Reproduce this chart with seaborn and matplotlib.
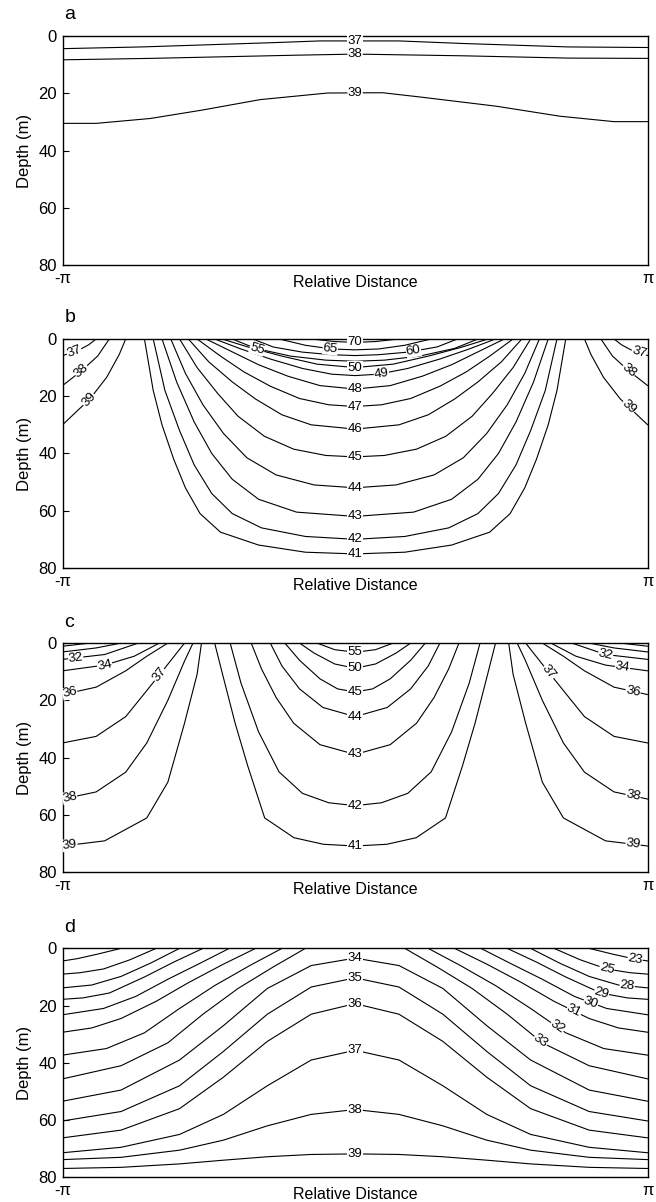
import numpy as np
import pandas as pd
import matplotlib.pyplot as plt
import seaborn as sns

sns.set_style('ticks', {'axes.edgecolor': 'black', 'text.color': 'black',
                        'axes.labelcolor': 'black', 'xtick.color': 'black',
                        'ytick.color': 'black'})
plt.rcParams['font.family'] = ['Liberation Sans', 'DejaVu Sans']

# Isolines read off the sections. x is the relative distance in units of pi,
# depth in metres. lab = x position of the inline label (None = no label).

# panel a
a_levels = [37, 38, 39]
a_x = [[-1, -0.73, -0.28, -0.12, 0.15, 0.37, 0.73, 1],
       [-1, -0.7, -0.21, 0.0, 0.37, 0.73, 1],
       [-1, -0.885, -0.7, -0.525, -0.324, -0.094, 0.094, 0.223, 0.482, 0.7, 0.885, 1]]
a_depth = [[4.4, 3.8, 2.3, 1.7, 1.7, 2.6, 3.8, 4.0],
           [8.3, 7.8, 6.7, 6.3, 6.9, 7.7, 7.8],
           [30.5, 30.5, 28.8, 25.9, 22.2, 19.9, 19.8, 21.3, 24.5, 28, 29.9, 29.9]]
a_lab = [0, 0, 0]

# panel b
b_levels = [37, 38, 39, 37, 38, 39,
            41, 42, 43, 44, 45, 46, 47, 48, 49, 50, 55, 60, 65, 70]
b_x = [[-1, -0.95, -0.91, -0.885],
       [-1, -0.935, -0.88, -0.84],
       [-1, -0.906, -0.849, -0.806, -0.784],
       [0.885, 0.91, 0.95, 1],
       [0.84, 0.88, 0.935, 1],
       [0.784, 0.806, 0.849, 0.906, 1],
       [-0.72, -0.69, -0.66, -0.62, -0.58, -0.53, -0.46, -0.33, -0.17, 0, 0.17, 0.33, 0.46, 0.53, 0.58, 0.62, 0.66, 0.69, 0.72],
       [-0.69, -0.65, -0.6, -0.55, -0.49, -0.42, -0.32, -0.17, 0, 0.17, 0.32, 0.42, 0.49, 0.55, 0.6, 0.65, 0.69],
       [-0.66, -0.61, -0.55, -0.49, -0.42, -0.33, -0.2, 0, 0.2, 0.33, 0.42, 0.49, 0.55, 0.61, 0.66],
       [-0.63, -0.58, -0.52, -0.45, -0.37, -0.27, -0.14, 0, 0.14, 0.27, 0.37, 0.45, 0.52, 0.58, 0.63],
       [-0.6, -0.54, -0.47, -0.4, -0.31, -0.21, -0.1, 0, 0.1, 0.21, 0.31, 0.4, 0.47, 0.54, 0.6],
       [-0.57, -0.5, -0.42, -0.34, -0.25, -0.15, 0, 0.15, 0.25, 0.34, 0.42, 0.5, 0.57],
       [-0.54, -0.46, -0.38, -0.29, -0.19, -0.09, 0, 0.09, 0.19, 0.29, 0.38, 0.46, 0.54],
       [-0.51, -0.42, -0.33, -0.23, -0.12, 0, 0.12, 0.23, 0.33, 0.42, 0.51],
       [-0.48, -0.39, -0.29, -0.18, -0.08, 0, 0.08, 0.18, 0.29, 0.39, 0.48],
       [-0.455, -0.36, -0.25, -0.13, 0, 0.13, 0.25, 0.36, 0.455],
       [-0.42, -0.34, -0.22, -0.1, 0, 0.1, 0.22, 0.34, 0.42],
       [-0.35, -0.28, -0.18, -0.08, 0, 0.08, 0.18, 0.28, 0.35],
       [-0.26, -0.17, -0.08, 0, 0.08, 0.17, 0.26],
       [-0.15, -0.07, 0, 0.07, 0.15]]
b_depth = [[5.8, 4.2, 2.0, 0],
           [16.3, 11.1, 6.0, 0],
           [30, 20.9, 13.4, 5.4, 0],
           [0, 2.0, 4.2, 5.8],
           [0, 6.0, 11.1, 16.3],
           [0, 5.4, 13.4, 20.9, 30],
           [0, 18, 30, 42, 52, 61, 67.5, 72, 74.5, 75.1, 74.5, 72, 67.5, 61, 52, 42, 30, 18, 0],
           [0, 18, 32, 44, 54, 61, 66, 69, 70, 69, 66, 61, 54, 44, 32, 18, 0],
           [0, 15, 29, 40, 49, 56, 60.5, 62, 60.5, 56, 49, 40, 29, 15, 0],
           [0, 12, 23, 33, 41.5, 47.5, 51, 52, 51, 47.5, 41.5, 33, 23, 12, 0],
           [0, 10, 19, 27, 34, 38.5, 40.7, 41.2, 40.7, 38.5, 34, 27, 19, 10, 0],
           [0, 8, 15, 21, 26.5, 30, 31.5, 30, 26.5, 21, 15, 8, 0],
           [0, 6, 11.5, 16.5, 20.8, 23, 23.6, 23, 20.8, 16.5, 11.5, 6, 0],
           [0, 4.5, 9, 13, 16.3, 17.5, 16.3, 13, 9, 4.5, 0],
           [0, 3.5, 7, 10.3, 12.3, 12.8, 12.3, 10.3, 7, 3.5, 0],
           [0, 3, 6, 8.8, 10, 8.8, 6, 3, 0],
           [0, 3.3, 6.0, 7.4, 7.8, 7.4, 6.0, 3.3, 0],
           [0, 2.8, 4.6, 5.5, 5.8, 5.5, 4.6, 2.8, 0],
           [0, 2.2, 3.5, 3.8, 3.5, 2.2, 0],
           [0, 0.9, 1.2, 0.9, 0]]
b_lab = [-0.96, -0.935, -0.91, 0.97, 0.935, 0.935,
         0, 0, 0, 0, 0, 0, 0, 0, 0.09, 0, -0.335, 0.2, -0.085, 0]

# panel c
c_levels = [30, 31, 32, 34, 36, 37, 38, 39,
            30, 31, 32, 34, 36, 37, 38, 39,
            41, 42, 43, 44, 45, 50, 55]
c_x = [[-1, -0.906],
       [-1, -0.885, -0.8],
       [-1, -0.856, -0.741],
       [-1, -0.856, -0.755, -0.669],
       [-1, -0.885, -0.784, -0.712, -0.64],
       [-1, -0.885, -0.784, -0.712, -0.64, -0.583],
       [-1, -0.885, -0.784, -0.712, -0.64, -0.583, -0.554],
       [-1, -0.856, -0.712, -0.64, -0.583, -0.54, -0.525],
       [0.906, 1],
       [0.8, 0.885, 1],
       [0.741, 0.856, 1],
       [0.669, 0.755, 0.856, 1],
       [0.64, 0.712, 0.784, 0.885, 1],
       [0.583, 0.64, 0.712, 0.784, 0.885, 1],
       [0.554, 0.583, 0.64, 0.712, 0.784, 0.885, 1],
       [0.525, 0.54, 0.583, 0.64, 0.712, 0.856, 1],
       [-0.48, -0.453, -0.41, -0.367, -0.309, -0.209, -0.108, 0, 0.108, 0.209, 0.309, 0.367, 0.41, 0.453, 0.48],
       [-0.427, -0.39, -0.33, -0.26, -0.18, -0.09, 0, 0.09, 0.18, 0.26, 0.33, 0.39, 0.427],
       [-0.355, -0.32, -0.27, -0.21, -0.12, 0, 0.12, 0.21, 0.27, 0.32, 0.355],
       [-0.29, -0.25, -0.19, -0.11, 0, 0.11, 0.19, 0.25, 0.29],
       [-0.24, -0.19, -0.12, -0.06, 0, 0.06, 0.12, 0.19, 0.24],
       [-0.19, -0.14, -0.07, 0, 0.07, 0.14, 0.19],
       [-0.13, -0.07, 0, 0.07, 0.13]]
c_depth = [[1.1, 0],
           [3.1, 1.7, 0],
           [5.7, 4.0, 0],
           [9.7, 7.7, 4.6, 0],
           [18, 15.4, 9.7, 4.6, 0],
           [34.9, 32.6, 25.7, 16.6, 7.4, 0],
           [54.5, 52, 45.1, 34.9, 20, 6.3, 0],
           [70.9, 69.1, 61.1, 48.6, 28, 10.9, 0],
           [0, 1.1],
           [0, 1.7, 3.1],
           [0, 4.0, 5.7],
           [0, 4.6, 7.7, 9.7],
           [0, 4.6, 9.7, 15.4, 18],
           [0, 7.4, 16.6, 25.7, 32.6, 34.9],
           [0, 6.3, 20, 34.9, 45.1, 52, 54.5],
           [0, 10.9, 28, 48.6, 61.1, 69.1, 70.9],
           [0, 10.9, 28, 42.9, 61.1, 68, 70.3, 70.9, 70.3, 68, 61.1, 42.9, 28, 10.9, 0],
           [0, 14, 31, 45, 52.5, 55.8, 56.8, 55.8, 52.5, 45, 31, 14, 0],
           [0, 9, 19, 28, 35.5, 38.9, 35.5, 28, 19, 9, 0],
           [0, 8, 16, 22.5, 25.7, 22.5, 16, 8, 0],
           [0, 6, 12.5, 16, 17.1, 16, 12.5, 6, 0],
           [0, 3.5, 7.3, 8.8, 7.3, 3.5, 0],
           [0, 2.3, 3.2, 2.3, 0]]
c_lab = [None, None, -0.955, -0.856, -0.975, -0.669, -0.975, -0.975,
         None, None, 0.856, 0.914, 0.95, 0.662, 0.95, 0.95,
         0, 0, 0, 0, 0, 0, 0]

# panel d
d_levels = [23, 25, 28, 29, 30, 31, 32, 33,
            23, 25, 28, 29, 30, 31, 32, 33,
            34, 35, 36, 37, 38, 39]
d_grid = [-1, -0.8, -0.6, -0.45, -0.3, -0.15, 0, 0.15, 0.3, 0.45, 0.6, 0.8, 1]
d_x = [[-1, -0.95, -0.88, -0.8],
       [-1, -0.94, -0.86, -0.77, -0.68],
       [-1, -0.9, -0.8, -0.7, -0.6],
       [-1, -0.93, -0.84, -0.72, -0.62, -0.52],
       [-1, -0.86, -0.75, -0.64, -0.53, -0.43],
       [-1, -0.9, -0.8, -0.68, -0.57, -0.45, -0.34],
       [-1, -0.85, -0.72, -0.6, -0.48, -0.36, -0.25],
       [-1, -0.8, -0.64, -0.52, -0.4, -0.28, -0.17],
       [0.8, 0.88, 0.95, 1],
       [0.68, 0.77, 0.86, 0.94, 1],
       [0.6, 0.7, 0.8, 0.9, 1],
       [0.52, 0.62, 0.72, 0.84, 0.93, 1],
       [0.43, 0.53, 0.64, 0.75, 0.86, 1],
       [0.34, 0.45, 0.57, 0.68, 0.8, 0.9, 1],
       [0.25, 0.36, 0.48, 0.6, 0.72, 0.85, 1],
       [0.17, 0.28, 0.4, 0.52, 0.64, 0.8, 1],
       d_grid, d_grid, d_grid, d_grid, d_grid, d_grid]
d_depth = [[4.4, 3.6, 2.0, 0],
           [9.0, 8.5, 7.2, 4.0, 0],
           [13.8, 12.8, 9.8, 5.2, 0],
           [17.8, 17.3, 15.6, 10.0, 4.8, 0],
           [23.2, 21.0, 16.8, 10.8, 5.2, 0],
           [29.3, 27.8, 24.5, 18.5, 12.0, 5.5, 0],
           [37.3, 35.0, 29.5, 21.0, 13.0, 6.0, 0],
           [45.6, 41.0, 33.0, 23.0, 14.0, 6.5, 0],
           [0, 2.0, 3.6, 4.4],
           [0, 4.0, 7.2, 8.5, 9.0],
           [0, 5.2, 9.8, 12.8, 13.8],
           [0, 4.8, 10.0, 15.6, 17.3, 17.8],
           [0, 5.2, 10.8, 16.8, 21.0, 23.2],
           [0, 5.5, 12.0, 18.5, 24.5, 27.8, 29.3],
           [0, 6.0, 13.0, 21.0, 29.5, 35.0, 37.3],
           [0, 6.5, 14.0, 23.0, 33.0, 41.0, 45.6],
           [53.4, 49.5, 39, 27, 14, 6, 3.4, 6, 14, 27, 39, 49.5, 53.4],
           [60.3, 57, 48, 36, 23, 13.5, 10.3, 13.5, 23, 36, 48, 57, 60.3],
           [66.2, 63.5, 56, 45, 32.5, 23, 19.3, 23, 32.5, 45, 56, 63.5, 66.2],
           [71.4, 69.5, 65, 58, 48, 39, 35.6, 39, 48, 58, 65, 69.5, 71.4],
           [73.8, 73, 70.5, 67, 62, 58, 56.3, 58, 62, 67, 70.5, 73, 73.8],
           [76.9, 76.5, 75.3, 74, 72.8, 72, 71.8, 72, 72.8, 74, 75.3, 76.5, 76.9]]
d_lab = [None] * 8 + [0.957, 0.86, 0.93, 0.842, 0.806, 0.748, 0.691, 0.633] + [0] * 6

panels = [('a', a_levels, a_x, a_depth, a_lab),
          ('b', b_levels, b_x, b_depth, b_lab),
          ('c', c_levels, c_x, c_depth, c_lab),
          ('d', d_levels, d_x, d_depth, d_lab)]

rows = []
for name, levels, xs, depths, labs in panels:
    for i, (lev, x, d) in enumerate(zip(levels, xs, depths)):
        for xi, di in zip(x, d):
            rows.append((name, f'{name}{i}', lev, xi * np.pi, di))
df = pd.DataFrame(rows, columns=['panel', 'seg', 'level', 'x', 'depth'])

fig = plt.figure(figsize=(6.56, 12.02), dpi=100)
bottoms = [0.7795, 0.5275, 0.2745, 0.0205]

for (name, levels, xs, depths, labs), bot in zip(panels, bottoms):
    ax = fig.add_axes([0.0953, bot, 0.892, 0.1905])
    sns.lineplot(data=df[df.panel == name], x='x', y='depth', units='seg',
                 estimator=None, sort=False, color='black', linewidth=0.8,
                 legend=False, ax=ax)
    ax.set_xlim(-np.pi, np.pi)
    ax.set_ylim(80, 0)
    ax.set_yticks([0, 20, 40, 60, 80])
    ax.set_xticks([-np.pi, np.pi])
    ax.set_xticklabels(['-π', 'π'])
    ax.tick_params(axis='y', direction='in', length=4, labelsize=12, pad=4)
    ax.tick_params(axis='x', length=0, labelsize=12, pad=4)
    for sp in ax.spines.values():
        sp.set_linewidth(1.0)
    ax.set_xlabel('Relative Distance', fontsize=11.5)
    ax.xaxis.set_label_coords(0.5, -0.043)
    ax.set_ylabel('Depth (m)', fontsize=12)
    ax.yaxis.set_label_coords(-0.053, 0.5)
    ax.text(0.003, 1.092, name, transform=ax.transAxes, fontsize=14,
            ha='left', va='center')

    # inline contour labels
    for lev, x, d, lx in zip(levels, xs, depths, labs):
        if lx is None:
            continue
        xp = np.array(x) * np.pi
        ly = np.interp(lx * np.pi, xp, d)
        p1 = ax.transData.transform((lx * np.pi - 0.06, np.interp(lx * np.pi - 0.06, xp, d)))
        p2 = ax.transData.transform((lx * np.pi + 0.06, np.interp(lx * np.pi + 0.06, xp, d)))
        ang = np.degrees(np.arctan2(p2[1] - p1[1], p2[0] - p1[0]))
        ax.text(lx * np.pi, ly, str(lev), fontsize=9.5, ha='center', va='center',
                rotation=ang, rotation_mode='anchor',
                bbox=dict(facecolor='white', edgecolor='none', pad=0.2))

fig.savefig('out.png', dpi=100)
